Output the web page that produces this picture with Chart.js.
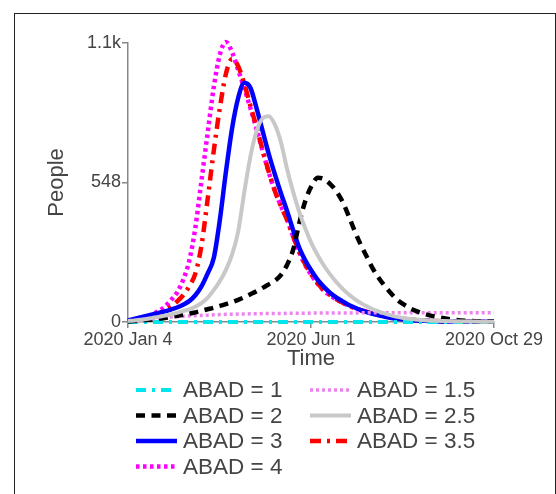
<!DOCTYPE html>
<html>
<head>
<meta charset="utf-8">
<script src="https://cdn.jsdelivr.net/npm/chart.js@4.4.1/dist/chart.umd.min.js"></script>
<style>
  html, body { margin:0; padding:0; background:#fff; }
  #wrap { position:relative; width:556px; height:494px; overflow:hidden; }
  #frame { position:absolute; left:14px; top:13px; width:540px; height:500px; border:1px solid #222; border-bottom:none; }
  canvas { position:absolute; left:0; top:0; }
</style>
</head>
<body>
<div id="wrap">
  <div id="frame"></div>
  <canvas id="c" width="556" height="494"></canvas>
</div>
<script>
// Days since 2020 Jan 4
const days = [0,5,10,15,20,25,30,35,40,45,50,55,60,65,70,75,80,85,90,95,100,105,110,115,120,125,130,135,140,145,150,155,160,165,170,175,180,185,190,195,200,205,210,215,220,225,230,235,240,245,250,265,280,299];

const abad1  = [0,0,0,0,0,0,0,0,0,0, 0,0,0,0,0,0,0,0,0,0, 0,0,0,0,0,0,0,0,0,0, 0,0,0,0,0,0,0,0,0,0, 0,0,0,0,0,0,0,0,0,0, 0,0,0,0];
const abad15 = [3,5,8,10,13,15,18,20,21,23, 24,25,26,27,28,29,30,30,31,31, 32,32,33,33,33,33,34,34,34,34, 35,35,35,35,35,35,35,35,36,36, 36,36,36,36,36,36,36,36,36,36, 36,36,36,36];
const abad2  = [2,4,6,8,10,13,16,20,24,28, 33,38,44,50,56,63,70,78,87,97, 109,121,134,148,162,185,225,285,390,478, 535,567,562,543,515,475,420,360,305,257, 210,172,140,112,87,70,55,44,35,28, 22,10,4,2];
const abad25 = [4,6,9,12,16,20,25,30,36,43, 50,60,74,95,125,160,205,265,355,510, 650,750,800,808,775,705,600,510,431,365, 308,262,222,188,158,132,110,91,75,62, 50,41,33,26,20,16,13,10,8,6, 5,3,2,1];
const abad3  = [6,12,18,24,30,36,42,49,57,68, 82,105,140,190,250,400,590,760,880,940, 920,840,750,660,580,505,435,360,290,240, 200,165,138,115,97,82,68,57,47,39, 32,26,20,16,13,10,8,6,5,4, 3,2,1,1];
const abad35 = [4,7,10,15,22,32,45,60,80,105, 140,190,300,480,670,840,975,1033,1005,935, 850,765,675,590,515,455,400,335,275,225, 185,152,125,106,90,77,65,55,47,40, 33,27,22,18,15,12,10,8,6,5, 4,2,1,1];
const abad4  = [5,9,14,20,30,43,60,85,115,165, 240,370,555,740,920,1050,1100,1060,990,918, 840,759,672,588,515,455,403,335,273,222, 183,150,123,105,89,76,65,55,47,40, 33,27,22,18,15,12,10,8,6,5, 4,2,1,1];

const seriesLabels = ['ABAD = 1','ABAD = 1.5','ABAD = 2','ABAD = 2.5','ABAD = 3','ABAD = 3.5','ABAD = 4'];
const seriesValues = [abad1, abad15, abad2, abad25, abad3, abad35, abad4];

const yTickValues = [0, 548, 1096];
const yTickLabels = ['0', '548', '1.1k'];
const xTickValues = [0, 149.5, 299];
const xTickLabels = ['2020 Jan 4', '2020 Jun 1', '2020 Oct 29'];

const styles = [
  {color:'#00E5EE', width:4, dash:[10,6,3,6]},
  {color:'#EE82EE', width:3.5, dash:[3,3]},
  {color:'#000000', width:4.5, dash:[9,6.5]},
  {color:'#C8C8C8', width:4, dash:[]},
  {color:'#0000FF', width:4.5, dash:[]},
  {color:'#FF0000', width:4.5, dash:[11,6,3,6]},
  {color:'#FF00FF', width:4.5, dash:[3.5,3.5]}
];

const FONT = "'Liberation Sans', Arial, sans-serif";
const TEXT = '#444';

const datasets = seriesValues.map((vals, i) => ({
  label: seriesLabels[i],
  data: vals.map((v, k) => ({x: days[k], y: v})),
  borderColor: styles[i].color,
  borderWidth: styles[i].width,
  borderDash: styles[i].dash,
  borderCapStyle: 'butt',
  pointRadius: 0,
  fill: false,
  cubicInterpolationMode: 'monotone',
  clip: false
}));
const order = [3, 2, 1, 0, 4, 5, 6];
datasets.forEach((d, i) => { d.order = order[i]; });

const legendPlugin = {
  id: 'customLegend',
  afterDraw(chart) {
    const ctx = chart.ctx;
    const colLine = [136, 310];
    const lineLen = 41;
    ctx.save();
    ctx.font = '22.5px ' + FONT;
    ctx.fillStyle = TEXT;
    ctx.textBaseline = 'middle';
    ctx.textAlign = 'left';
    chart.data.datasets.forEach((ds, i) => {
      const col = i % 2, row = Math.floor(i / 2);
      const y = 390 + row * 25.5;
      const x0 = colLine[col];
      ctx.beginPath();
      ctx.strokeStyle = ds.borderColor;
      ctx.lineWidth = ds.borderWidth;
      ctx.setLineDash(ds.borderDash);
      ctx.lineCap = 'butt';
      ctx.moveTo(x0, y);
      ctx.lineTo(x0 + lineLen, y);
      ctx.stroke();
      ctx.setLineDash([]);
      ctx.fillText(ds.label, x0 + lineLen + 6, y + 1);
    });
    ctx.restore();
  }
};

new Chart(document.getElementById('c'), {
  type: 'line',
  data: { datasets },
  plugins: [legendPlugin],
  options: {
    responsive: false,
    animation: false,
    layout: { padding: { top: 43, left: 0, right: 62, bottom: 122 } },
    plugins: { legend: { display: false }, tooltip: { enabled: false } },
    scales: {
      x: {
        type: 'linear',
        min: 0, max: 299,
        afterBuildTicks: s => { s.ticks = xTickValues.map(v => ({value: v})); },
        afterFit: s => { s.height = 50; },
        ticks: {
          autoSkip: false, maxRotation: 0,
          padding: 1,
          font: { family: FONT, size: 18 },
          color: TEXT,
          callback: (v) => { const i = xTickValues.indexOf(v); return i >= 0 ? xTickLabels[i] : ''; }
        },
        grid: { drawOnChartArea: false, drawTicks: true, tickLength: 6, color: '#888', lineWidth: 1.5 },
        border: { display: true, color: '#888', width: 1.5 },
        title: { display: true, text: 'Time', font: { family: FONT, size: 22 }, color: TEXT, padding: { top: 0, bottom: 0 } }
      },
      y: {
        min: 0, max: 1096,
        afterBuildTicks: s => { s.ticks = yTickValues.map(v => ({value: v})); },
        afterFit: s => { s.width = 128; },
        ticks: {
          padding: 1,
          font: { family: FONT, size: 18 },
          color: TEXT,
          callback: (v) => { const i = yTickValues.indexOf(v); return i >= 0 ? yTickLabels[i] : ''; }
        },
        grid: { drawOnChartArea: false, drawTicks: true, tickLength: 6, color: '#888', lineWidth: 1.5 },
        border: { display: true, color: '#888', width: 1.5 },
        title: { display: true, text: 'People', font: { family: FONT, size: 22 }, color: TEXT, padding: { top: 44, bottom: 0 } }
      }
    }
  }
});
</script>
</body>
</html>
